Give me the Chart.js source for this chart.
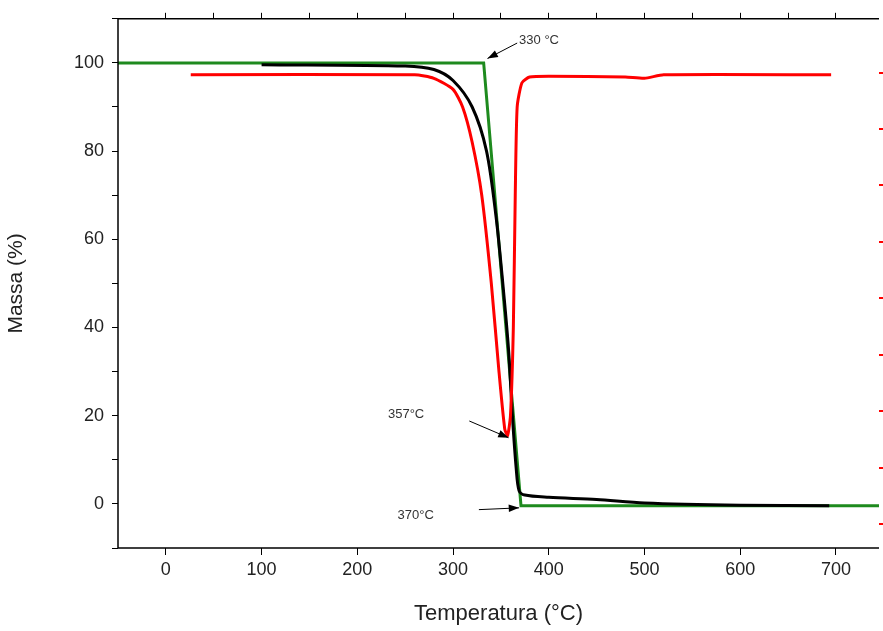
<!DOCTYPE html>
<html><head><meta charset="utf-8">
<script src="https://cdn.jsdelivr.net/npm/chart.js@4"></script>
<style>html,body{margin:0;padding:0;background:#fff}#wrap{width:883px;height:631px}</style>
</head><body><div id="wrap"><canvas id="c"></canvas></div>
<script>
// temperatures (°C) and mass (%)
const greenT = [-50, 332, 371, 750];
const greenM = [100, 100, -0.4, -0.4];
const blackT = [100, 250, 280, 300, 320, 335, 345, 352, 358, 362, 366, 369, 375, 400, 450, 500, 600, 693];
const blackM = [99.6, 99.3, 98.5, 96, 90, 80, 65, 50, 35, 20, 8, 3, 2, 1.5, 1, 0.2, -0.3, -0.4];
const redT = [26, 260, 280, 300, 310, 320, 330, 340, 348, 354, 357, 360, 363, 365, 367, 372, 380, 400, 480, 500, 520, 695];
const redM = [97.3, 97.3, 96.5, 94, 90, 82, 70, 50, 30, 17, 15.5, 20, 40, 70, 90, 95.5, 96.8, 97, 96.8, 96.5, 97.3, 97.3];
const rightTicks = [97.8, 85, 72.2, 59.4, 46.6, 33.8, 21, 8.2, -4.6];
const notes = [
  {text: '330 °C', tx: 369, ty: 105.2, ax: 367, ay: 104.5, bx: 336, by: 101},
  {text: '357°C', tx: 232, ty: 20.4, ax: 317, ay: 18.8, bx: 358, by: 15},
  {text: '370°C', tx: 242, ty: -2.5, ax: 327, ay: -1.3, bx: 369, by: -0.9}
];

const pts = (xs, ys) => xs.map((x, i) => ({x: x, y: ys[i]}));
const font = 'Liberation Sans, Arial, sans-serif';

const annot = {
  id: 'annot',
  afterDatasetsDraw(ch) {
    const c = ch.ctx, sx = ch.scales.x, sy = ch.scales.y;
    c.save();
    c.fillStyle = '#333'; c.strokeStyle = '#000'; c.lineWidth = 1;
    c.font = '13px ' + font; c.textBaseline = 'middle';
    notes.forEach(n => {
      c.fillStyle = '#333';
      c.fillText(n.text, sx.getPixelForValue(n.tx), sy.getPixelForValue(n.ty));
      const x1 = sx.getPixelForValue(n.ax), y1 = sy.getPixelForValue(n.ay);
      const x2 = sx.getPixelForValue(n.bx), y2 = sy.getPixelForValue(n.by);
      c.beginPath(); c.moveTo(x1, y1); c.lineTo(x2, y2); c.stroke();
      const a = Math.atan2(y2 - y1, x2 - x1);
      c.beginPath(); c.moveTo(x2, y2);
      c.lineTo(x2 - 11 * Math.cos(a - 0.35), y2 - 11 * Math.sin(a - 0.35));
      c.lineTo(x2 - 11 * Math.cos(a + 0.35), y2 - 11 * Math.sin(a + 0.35));
      c.closePath(); c.fillStyle = '#000'; c.fill();
    });
    // frame
    const a = ch.chartArea;
    c.strokeStyle = '#000'; c.lineWidth = 1.5;
    c.beginPath(); c.moveTo(a.left, a.bottom); c.lineTo(a.left, a.top); c.lineTo(a.right, a.top);
    c.moveTo(a.left, a.bottom); c.lineTo(a.right, a.bottom); c.stroke();
    c.restore();
  }
};

new Chart(document.getElementById('c'), {
  type: 'line',
  data: {datasets: [
    {data: pts(redT, redM), borderColor: '#ff0000', borderWidth: 3, pointRadius: 0, tension: 0.2},
    {data: pts(blackT, blackM), borderColor: '#000000', borderWidth: 3, pointRadius: 0, tension: 0.3},
    {data: pts(greenT, greenM), borderColor: '#1e8a1e', borderWidth: 3, pointRadius: 0, tension: 0}
  ]},
  options: {
    responsive: true, maintainAspectRatio: false, animation: false,
    layout: {padding: 0},
    plugins: {legend: {display: false}, tooltip: {enabled: false}},
    scales: {
      x: {type: 'linear', min: -50, max: 745, position: 'bottom',
        afterBuildTicks: s => { s.ticks = [0,100,200,300,400,500,600,700].map(v => ({value: v})); },
        grid: {drawOnChartArea: false, tickLength: 7, color: '#000'}, border: {display: false},
        ticks: {color: '#222', font: {size: 18, family: font}, padding: 4},
        title: {display: true, text: 'Temperatura (°C)', color: '#222', font: {size: 22, family: font}, padding: {top: 2}},
        afterFit: s => { s.height = 83; }},
      x2: {type: 'linear', min: -50, max: 745, position: 'top',
        afterBuildTicks: s => { s.ticks = [0,50,100,150,200,250,300,350,400,450,500,550,600,650,700].map(v => ({value: v})); },
        grid: {drawOnChartArea: false, tickLength: 6, color: '#000'}, border: {display: false},
        ticks: {display: false}, afterFit: s => { s.height = 14; }},
      y: {min: -10, max: 110,
        afterBuildTicks: s => { s.ticks = [-10,0,10,20,30,40,50,60,70,80,90,100,110].map(v => ({value: v})); },
        grid: {drawOnChartArea: false, tickLength: 6, color: '#000'}, border: {display: false},
        ticks: {color: '#222', font: {size: 18, family: font}, padding: 8,
          callback: v => (v % 20 === 0 && v >= 0 && v <= 100) ? v : ''},
        title: {display: true, text: 'Massa (%)', color: '#222', font: {size: 21, family: font}, padding: {bottom: 12}},
        afterFit: s => { s.width = 118; }},
      y2: {min: -10, max: 110, position: 'right',
        afterBuildTicks: s => { s.ticks = rightTicks.map(v => ({value: v})); },
        grid: {drawOnChartArea: false, tickLength: 4, color: '#ff0000', lineWidth: 2}, border: {display: false},
        ticks: {display: false}, afterFit: s => { s.width = 4; }}
    }
  },
  plugins: [annot]
});
</script></body></html>
